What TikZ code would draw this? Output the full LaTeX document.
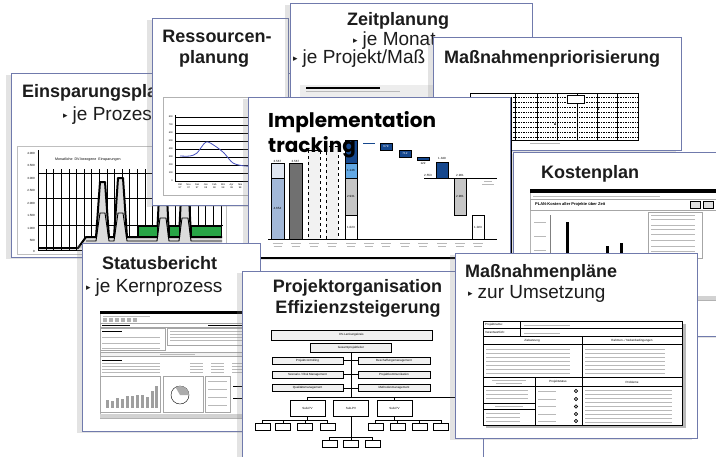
\documentclass[tikz,border=0pt]{standalone}
\usepackage{fontspec}
\setmainfont{Liberation Sans}
\newfontfamily\popfont{Poppins}
\newfontfamily\symfont{DejaVu Sans}
\usetikzlibrary{shadows}
\usetikzlibrary{calc}

\definecolor{cardline}{RGB}{112,122,172}
\definecolor{titlegray}{RGB}{28,28,28}
\definecolor{barlight}{RGB}{162,184,216}
\definecolor{barpale}{RGB}{222,229,240}
\definecolor{bardark}{RGB}{112,112,112}
\definecolor{navy}{RGB}{22,72,142}
\definecolor{midblue}{RGB}{98,168,228}
\definecolor{savegreen}{RGB}{40,165,70}
\definecolor{curveblue}{RGB}{70,80,190}

\newcommand{\bul}{{\symfont\fontsize{9}{9}\selectfont\raisebox{0.25ex}{▸}}\hspace{5pt}}

\tikzset{
  card/.style={draw=cardline, line width=0.8pt, fill=white,
    drop shadow={shadow xshift=-5pt, shadow yshift=-2pt, opacity=0.22}},
  cardtitle/.style={anchor=base west, inner sep=0pt, text=titlegray,
    font=\fontsize{18}{21}\selectfont\bfseries},
  cardsub/.style={anchor=base west, inner sep=0pt, text=titlegray,
    font=\fontsize{19}{22}\selectfont},
  minitext/.style={inner sep=0pt, font=\fontsize{3}{3.5}\selectfont},
  orgbox/.style={draw, line width=0.5pt, fill=gray!12, inner sep=0pt,
    font=\fontsize{3}{3.5}\selectfont},
  smallbox/.style={draw, line width=0.5pt, fill=white, inner sep=0pt,
    minimum width=15pt, minimum height=7pt},
  textline/.style={draw=gray!55, line width=0.9pt},
}

\begin{document}
\begin{tikzpicture}[x=1pt,y=1pt,yscale=-1,xscale=1]
\useasboundingbox (0,0) rectangle (716,456);
\clip (0,0) rectangle (716,456);

%Card: Einsparungsplan
\path[card] (11,73) rectangle (300,257);
\node[cardtitle] (einsptitle) at (22,97) {Einsparungsplan};
\node[cardsub] (einspsub) at (63,120) {\bul je Prozess};
\draw[gray!50] (17,146) rectangle (226,254);
\foreach \v/\yy [count=\k] in {4.000/153,3.500/165.5,3.000/178,2.500/190.5,2.000/203,1.500/215.5,1.000/228,500/240.5,0/251}
  \node[minitext,anchor=east] (ey\k) at (35,\yy) {\v};
\node[minitext,anchor=west,font=\fontsize{3.6}{4}\selectfont] (einspchart) at (55,160) {Monatliche\ \ DV-bezogene\ \ Einsparungen};
\foreach \i in {0,...,23}
  \draw[line width=0.5pt] (46+7.6*\i,169) -- (46+7.6*\i,250);
\foreach \yy in {173,198,225}
  \draw[line width=0.8pt] (38,\yy) -- (223,\yy);
\fill[gray!28] (78,248) -- (86,237) -- (96,237) -- (100,182) -- (105,182) -- (109,237) -- (114,237) -- (118,178) -- (123,178) -- (127,237) -- (157,237) -- (160,176) -- (166,176) -- (169,237) -- (179,237) -- (182,176) -- (188,176) -- (191,237) -- (222,237) -- (222,248) -- cycle;
\draw[line width=0.9pt] (86,241) -- (96,241) -- (100,213) -- (105,213) -- (109,241) -- (114,241) -- (118,213) -- (123,213) -- (127,241) -- (157,241) -- (160,218) -- (166,218) -- (169,241) -- (179,241) -- (182,218) -- (188,218) -- (191,241) -- (222,241);
\draw[line width=2pt, line join=round] (38,248) -- (78,248) -- (86,237) -- (96,237) -- (100,182) -- (105,182) -- (109,237) -- (114,237) -- (118,178) -- (123,178) -- (127,237) -- (157,237) -- (160,176) -- (166,176) -- (169,237) -- (179,237) -- (182,176) -- (188,176) -- (191,237) -- (222,237);
\draw[fill=savegreen] (138,226) rectangle (157,236);
\draw[fill=savegreen] (169,226) rectangle (179,236);
\draw[fill=savegreen] (191,226) rectangle (221,236);
\draw (38,150) -- (38,250) -- (223,250);

%Card: Ressourcenplanung
\path[card] (152,18) rectangle (288,205);
\node[cardtitle,anchor=base] (resstitle) at (217,42) {Ressourcen-};
\node[cardtitle,anchor=base] (resstitle2) at (214,63) {planung};
\draw[gray!60,fill=white] (163,97) rectangle (300,195);
\foreach \i in {0,...,8}
  \draw[line width=0.6pt] (175,117+8*\i) -- (300,117+8*\i);
\foreach \v [count=\k] in {800,700,600,500,400,300,200,100,0}
  \node[minitext,anchor=east,font=\fontsize{2.4}{3}\selectfont] (ry\k) at (173,117+8*\k-8) {\v};
\draw[line width=0.6pt] (175,115) -- (175,181);
\draw[curveblue, line width=0.8pt] plot[smooth] coordinates {(180,156) (190,156) (197,153) (206,142) (215,146) (224,153) (233,163) (245,166) (260,166)};
\foreach \m/\yr [count=\k] in {Okt/97,Nov/97,Dez/97,Jan/98,Feb/98,Mrz/98,Apr/98,Mai/98}
  \node[minitext,font=\fontsize{2.4}{2.8}\selectfont,align=center] (rx\k) at (180+8.6*\k-8.6,186) {\m\\\yr};

%Card: Zeitplanung
\path[card] (290,3) rectangle (532,110);
\node[cardtitle] (zeittitle) at (347,25) {Zeitplanung};
\node[cardsub] (zeitsub1) at (353,45) {\bul je Monat};
\node[cardsub] (zeitsub2) at (293,63) {\bul je Projekt/Maß};
\fill[gray!14] (300,85) rectangle (440,100);
\draw[line width=1.2pt] (306,88) -- (380,88);
\draw[textline] (306,91.5) -- (400,91.5);

%Card: Massnahmenpriorisierung
\path[card] (433,37) rectangle (681,150);
\node[cardtitle] (priotitle) at (444,63) {Maßnahmenpriorisierung};
\draw[line width=0.6pt] (470,93) rectangle (638,140);
\foreach \r in {0,...,8}
  \draw[densely dotted, line width=0.7pt] (470,97+5*\r) -- (638,97+5*\r);
\foreach \xx in {515,537,557,577,597,617}
  \draw[line width=0.6pt] (\xx,93) -- (\xx,140);
\draw[line width=1pt, fill=white] (567,95) rectangle (584,103);
\fill (555,124) circle (1pt);
\fill (598,109) circle (1pt);
\draw[textline, line width=0.6pt] (530,143) -- (560,143);

%Card: Kostenplan
\path[card] (513,152) rectangle (740,336);
\node[cardtitle] (koststitle) at (541,178) {Kostenplan};
\draw[gray!60, fill=white] (530,189) rectangle (740,300);
\fill (530,189) rectangle (740,193);
\draw[textline, line width=0.6pt] (533,196) -- (660,196);
\draw[gray!70] (530,199) rectangle (716,210);
\node[minitext,anchor=west,font=\fontsize{4}{4.5}\selectfont\bfseries] (kostchart) at (535,204.5) {PLAN-Kosten aller Projekte über Zeit};
\draw[fill=gray!25] (690,201) rectangle (700,208);
\draw[fill=gray!25] (703,201) rectangle (713,208);
\foreach \yy in {222,236,250}
  \draw[textline, line width=0.6pt] (534,\yy) -- (546,\yy);
\draw[gray] (550,215) -- (550,255);
\fill (566,222) rectangle (569,255);
\fill (606,246) rectangle (609,255);
\fill (620,243) rectangle (623,255);
\draw[gray!70] (648,212) rectangle (702,258);
\foreach \yy in {215,219,225,229,234,240,246,251}
  \draw[textline, line width=0.6pt] (651,\yy) -- (695,\yy);
\fill[gray!35] (697,296) rectangle (716,300);

%Card: Implementation tracking
\path[card] (248,97) rectangle (510,258);
\draw[line width=1.6pt] (249,258) -- (511,258);
\draw[line width=0.8pt] (511,97) -- (511,258);
% waterfall bars
\draw[fill=barlight] (271,178) rectangle (284,239);
\draw[fill=barpale] (271,163) rectangle (284,178);
\draw[fill=bardark] (289,163) rectangle (302,239);
\draw[dashed, fill=gray!10] (308,150) rectangle (320,239);
\draw[dashed, fill=gray!10] (326,146) rectangle (338,239);
\draw[fill=white] (345,215) rectangle (357,239);
\draw[fill=gray!45] (345,178) rectangle (357,215);
\draw[fill=midblue] (345,163) rectangle (357,178);
\draw[fill=navy] (345,140) rectangle (357,163);
\draw[navy, line width=0.8pt] (363,143) -- (375,143);
\draw[fill=navy] (380,143) rectangle (392,150);
\draw[fill=navy] (399,150) rectangle (411,157);
\draw[fill=navy] (417,157) rectangle (429,160);
\draw[fill=navy] (436,162) rectangle (448,178);
\draw (424,178) -- (497,178);
\draw[fill=gray!45] (454,178) rectangle (466,215);
\draw[fill=white] (472,215) rectangle (484,239);
\draw (268,239) -- (497,239);
\node[minitext] (w1) at (277.5,161) {3.567};
\node[minitext] (w2) at (295.5,161) {3.567};
\node[minitext] (w3) at (277.5,208) {4.654};
\node[minitext] (w4) at (351,170.5) {1.146};
\node[minitext] (w5) at (351,196.5) {2.931};
\node[minitext] (w6) at (351,227) {1.023};
\node[minitext,text=white] (w7) at (386,146.5) {679};
\node[minitext,text=white] (w8) at (405,153.5) {712};
\node[minitext] (w9) at (423,163.5) {122};
\node[minitext] (w10) at (442,158.5) {1.349};
\node[minitext] (w11) at (428,175.5) {2.553};
\node[minitext] (w12) at (460,175.5) {2.901};
\node[minitext] (w13) at (460,196.5) {2.901};
\node[minitext] (w14) at (478,227) {1.023};
\foreach \xx in {277.5,295.5,314,332,351,369,386,405,423,442,460,478}
  \draw[textline, line width=0.7pt] (\xx-5,243.5) -- (\xx+5,243.5) (\xx-4,246.5) -- (\xx+4,246.5);
\draw[textline, line width=0.7pt] (484,181.5) -- (492,181.5) (482,184.5) -- (494,184.5);
\node[anchor=base west, inner sep=0pt, text=black,
  font=\popfont\bfseries\fontsize{20}{26}\selectfont] (impltitle) at (268,127) {Implementation};
\node[anchor=base west, inner sep=0pt, text=black,
  font=\popfont\bfseries\fontsize{20}{26}\selectfont] (impltitle2) at (268,152) {tracking};

%Card: Statusbericht
\path[card] (82,243) rectangle (260,431);
\node[cardtitle] (statustitle) at (102,269) {Statusbericht};
\node[cardsub] (statussub) at (86,292) {\bul je Kernprozess};
\draw[gray!60] (100,311) rectangle (255,418);
\fill (100,311) rectangle (255,313.5);
\draw[textline, line width=0.6pt] (103,316) -- (150,316);
\foreach \xx in {103,109,115,121,127,133}
  \fill[gray!60] (\xx,318) rectangle (\xx+4,321.5);
\draw[gray!70] (100,323) rectangle (255,327);
\draw[line width=0.8pt] (102,325) -- (130,325);
\draw[line width=0.8pt] (208,325) -- (250,325);
\draw[gray!70] (100,328) rectangle (165,350);
\draw[gray!70] (167,328) rectangle (255,345);
\draw[line width=0.9pt] (102,331) -- (122,331);
\foreach \yy in {337,343,348}
  \draw[textline, line width=0.6pt] (102,\yy) -- (160,\yy);
\foreach \yy in {331,334,337,340}
  \draw[textline, line width=0.6pt] (170,\yy) -- (250,\yy);
\draw[gray!70, fill=gray!10] (100,352) rectangle (255,356);
\draw[textline, line width=0.6pt] (160,354) -- (195,354);
\draw[line width=0.7pt] (102,360) -- (122,360);
\foreach \yy in {363,366,369,372}
  \draw[textline, line width=0.6pt] (102,\yy) -- (160,\yy) (190,\yy) -- (203,\yy) (211,\yy) -- (224,\yy) (232,\yy) -- (248,\yy);
\draw[gray!70] (100,376) rectangle (160,412);
\foreach \xx/\hh in {106/8,111/7,116/10,121/9,126/12,131/12,136/13,141/13,146/11,151/17,155/22}
  \fill[gray!75] (\xx,408-\hh) rectangle (\xx+3,408);
\draw[gray!70] (163,376) rectangle (203,412);
\draw[fill=white] (180,395) circle (9);
\fill[gray!65] (180,395) -- (189,395) arc (0:-120:9) -- cycle;
\draw[gray!70] (205,376) rectangle (230,412);
\foreach \yy in {381,389,397,405}
  \draw[textline, line width=0.6pt] (208,\yy) -- (227,\yy);
\draw[line width=0.8pt] (233,386) -- (250,386);
\draw[line width=0.8pt] (233,398) -- (250,398);
\fill[gray!35] (100,414) rectangle (255,418);

%Card: Projektorganisation
\path[card] (242,271) rectangle (483,470);
\node[cardtitle,anchor=base] (orgtitle) at (357.5,292) {Projektorganisation};
\node[cardtitle,anchor=base] (orgtitle2) at (358,313) {Effizienzsteigerung};
\node[orgbox, minimum width=161pt, minimum height=10pt] (lenk) at (351.5,335) {DV-Lenkungskreis};
\node[orgbox, minimum width=81pt, minimum height=9pt] (gesamt) at (351,347.5) {Gesamtprojektleiter};
\node[orgbox, minimum width=71pt, minimum height=7pt] (pc) at (307.5,360.5) {Projektcontrolling};
\node[orgbox, minimum width=71pt, minimum height=7pt] (srm) at (307.5,374.5) {Szenario / Risk Management};
\node[orgbox, minimum width=71pt, minimum height=7pt] (qm) at (307.5,388) {Qualitätsmanagement};
\node[orgbox, minimum width=72pt, minimum height=7pt] (bm) at (394,360.5) {Beschaffungsmanagement};
\node[orgbox, minimum width=72pt, minimum height=7pt] (pk) at (394,374.5) {Projektkommunikation};
\node[orgbox, minimum width=72pt, minimum height=7pt] (mm) at (394,388) {Methodenmanagement};
\coordinate (busL) at (308,397);
\coordinate (busR) at (470,397);
\coordinate (lbus) at (0,420);
\coordinate (cbus) at (0,437);
\node[orgbox, fill=white, minimum width=35pt, minimum height=16pt] (subA) at (307.5,408) {Sub-PV};
\node[orgbox, fill=white, minimum width=35pt, minimum height=16pt] (subB) at (351,408) {Sub-PV};
\node[orgbox, fill=white, minimum width=35pt, minimum height=16pt] (subC) at (394.5,408) {Sub-PV};
\foreach \n/\xx in {la/262.5,lb/283,lc/305,ld/327.5,ra/375.5,rb/397.5,rc/419.5,rd/441}
  \node[smallbox] (\n) at (\xx,426.5) {};
\foreach \n/\xx in {ca/329.5,cb/351,cc/372.5}
  \node[smallbox] (\n) at (\xx,443.5) {};
\draw (gesamt.south) -- (gesamt.south |- busL);
\foreach \n in {pc,srm,qm}
  \draw (\n.east) -- (\n.east -| gesamt.south);
\foreach \n in {bm,pk,mm}
  \draw (\n.west) -- (\n.west -| gesamt.south);
\draw (busL) -- (busR);
\foreach \n in {subA,subC}
  \draw (\n.north) -- (\n.north |- busL);
\draw (subA.south) -- (subA.south |- lbus);
\draw (subC.south) -- (subC.south |- lbus);
\draw (la.north |- lbus) -- (ld.north |- lbus);
\draw (ra.north |- lbus) -- (rd.north |- lbus);
\foreach \n in {la,lb,lc,ld,ra,rb,rc,rd}
  \draw (\n.north) -- (\n.north |- lbus);
\draw[line width=0.9pt] (subB.south) -- (cb.north);
\draw (ca.north |- cbus) -- (cc.north |- cbus);
\foreach \n in {ca,cc}
  \draw (\n.north) -- (\n.north |- cbus);

%Card: Massnahmenplaene
\path[card] (455,253) rectangle (697,438);
\node[cardtitle] (plantitle) at (465,277) {Maßnahmenpläne};
\node[cardsub] (plansub) at (468,298) {\bul zur Umsetzung};
\fill[gray!55] (486,324) rectangle (686,428);
\draw[fill=white] (483,321) rectangle (682,425);
\draw (483,328.5) -- (682,328.5);
\draw (483,336.5) -- (682,336.5);
\draw (483,344.5) -- (682,344.5);
\draw (483,377.5) -- (682,377.5);
\draw (483,386) -- (682,386);
\draw (520,321) -- (520,336.5);
\draw (582,336.5) -- (582,377.5);
\draw (535,377.5) -- (535,425);
\draw (582,377.5) -- (582,425);
\draw (483,403) -- (535,403) (483,409) -- (535,409);
\node[minitext,anchor=west] (pname) at (485,325) {Projektname:};
\node[minitext,anchor=west] (pverant) at (485,332.8) {Verantwortlich:};
\draw[textline, line width=0.6pt] (524,325) -- (570,325);
\draw[textline, line width=0.6pt] (524,332.8) -- (560,332.8);
\node[minitext] (pziel) at (532,340.5) {Zielsetzung};
\node[minitext] (prahmen) at (632,340.5) {Rahmen- / Nebenbedingungen};
\node[minitext] (pstatus) at (558,382) {Projektstatus};
\node[minitext] (pprob) at (632,382) {Probleme};
\draw[textline, line width=0.6pt] (492,380.5) -- (526,380.5) (496,383.5) -- (522,383.5);
\draw[textline, line width=0.6pt] (495,406) -- (523,406);
\foreach \yy in {349,353,357,361,365,369,373}
  \draw[textline, line width=0.6pt] (486,\yy) -- (570,\yy) (585,\yy) -- (665,\yy);
\foreach \yy in {390,394,398}
  \draw[textline, line width=0.6pt] (486,\yy) -- (528,\yy);
\foreach \yy in {413,417,421}
  \draw[textline, line width=0.6pt] (486,\yy) -- (520,\yy);
\foreach \yy in {390,394,398,402,406,410,414,418,422}
  \draw[textline, line width=0.6pt] (585,\yy) -- (672,\yy);
\foreach \yy [count=\k] in {391,399,406.5,414,421}
  {\draw[textline, line width=0.6pt] (538,\yy) -- (556,\yy);
   \node[draw, circle, fill=gray!60, inner sep=0pt, minimum size=3.5pt] (dot\k) at (576,\yy) {};}

\end{tikzpicture}
\end{document}
